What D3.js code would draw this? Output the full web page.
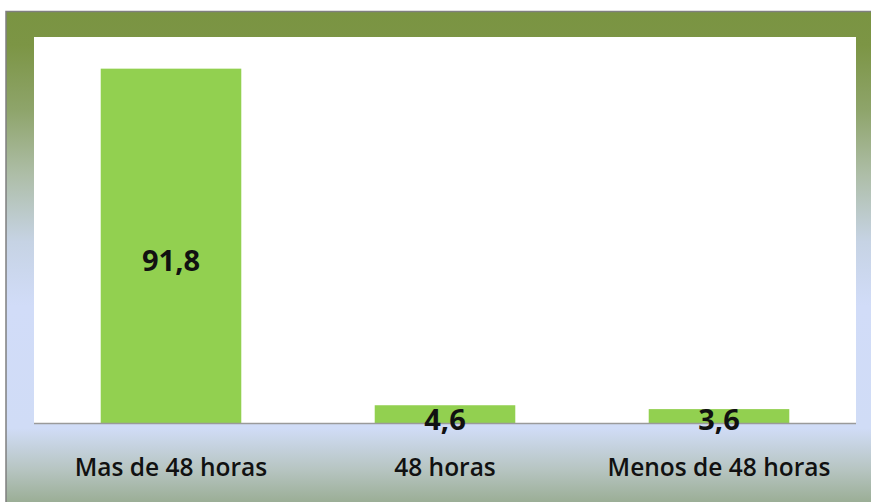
<!DOCTYPE html>
<html>
<head>
<meta charset="utf-8">
<script src="https://cdn.jsdelivr.net/npm/d3@7"></script>
<style>
  body { margin: 0; background: #fff; }
  svg { display: block; }
</style>
</head>
<body>
<div id="chart"></div>
<script>
// chart data
const categories = ["Mas de 48 horas", "48 horas", "Menos de 48 horas"];
const values = [91.8, 4.6, 3.6];
const valueLabels = ["91,8", "4,6", "3,6"];

(function() {
    const W = 871, H = 502;
    const plot = {left: 34, right: 856, top: 37, bottom: 423};

    const svg = d3.select("#chart")
        .append("svg")
        .attr("width", W)
        .attr("height", H)
        .style("font-family", "'Open Sans', 'Noto Sans', sans-serif");

    // background gradient of the chart frame
    const defs = svg.append("defs");
    const grad = defs.append("linearGradient")
        .attr("id", "bg")
        .attr("x1", 0).attr("y1", 0)
        .attr("x2", 0).attr("y2", 1);
    [
        [0, "#7a9442"],
        [0.07, "#7c9545"],
        [0.2, "#8ea46a"],
        [0.33, "#adbda6"],
        [0.47, "#c6d3e4"],
        [0.6, "#d1dcf8"],
        [0.85, "#d0dcf6"],
        [0.93, "#b8c6c4"],
        [1, "#9bae96"]
    ].forEach(s => grad.append("stop").attr("offset", s[0]).attr("stop-color", s[1]));

    svg.append("rect")
        .attr("x", 6).attr("y", 11)
        .attr("width", W - 6).attr("height", H - 11)
        .attr("fill", "url(#bg)");

    // frame border (top and left)
    svg.append("path")
        .attr("d", `M6,${H} V11.5 H${W}`)
        .attr("fill", "none")
        .attr("stroke", "#7f7f7f")
        .attr("stroke-width", 1.5);

    // plot area
    svg.append("rect")
        .attr("x", plot.left).attr("y", plot.top)
        .attr("width", plot.right - plot.left)
        .attr("height", plot.bottom - plot.top)
        .attr("fill", "#fff");

    const x = d3.scaleBand()
        .domain(categories)
        .range([plot.left, plot.right])
        .paddingInner(0.487)
        .paddingOuter(0.2435);

    const y = d3.scaleLinear()
        .domain([0, 100])
        .range([plot.bottom, plot.top]);

    svg.selectAll(".bar")
        .data(values)
        .enter()
        .append("rect")
        .attr("class", "bar")
        .attr("x", (d, i) => x(categories[i]))
        .attr("y", d => y(d))
        .attr("width", x.bandwidth())
        .attr("height", d => y(0) - y(d))
        .attr("fill", "#92d050");

    // axis line + category labels
    const xAxis = svg.append("g")
        .attr("transform", `translate(0,${plot.bottom})`)
        .call(d3.axisBottom(x).tickSize(0).tickPadding(0));
    xAxis.select(".domain")
        .attr("d", `M${plot.left},0.5H${plot.right}`)
        .attr("stroke", "#9a9a9a")
        .attr("stroke-width", 1.5);
    xAxis.selectAll("text")
        .attr("y", 53)
        .attr("dy", 0)
        .attr("fill", "#111")
        .style("font-family", "'Open Sans', 'Noto Sans', sans-serif")
        .style("font-weight", 600)
        .style("font-size", "24.5px");

    // value labels: inside the tall bar, straddling the axis for short ones
    svg.selectAll(".val")
        .data(values)
        .enter()
        .append("text")
        .attr("class", "val")
        .attr("x", (d, i) => x(categories[i]) + x.bandwidth() / 2)
        .attr("y", d => {
            const h = y(0) - y(d);
            return h > 60 ? (y(d) + y(0)) / 2 + 25 : y(0) + 7;
        })
        .attr("text-anchor", "middle")
        .attr("font-size", "29px")
        .attr("font-weight", "bold")
        .attr("fill", "#111")
        .text((d, i) => valueLabels[i]);
})();
</script>
</body>
</html>
